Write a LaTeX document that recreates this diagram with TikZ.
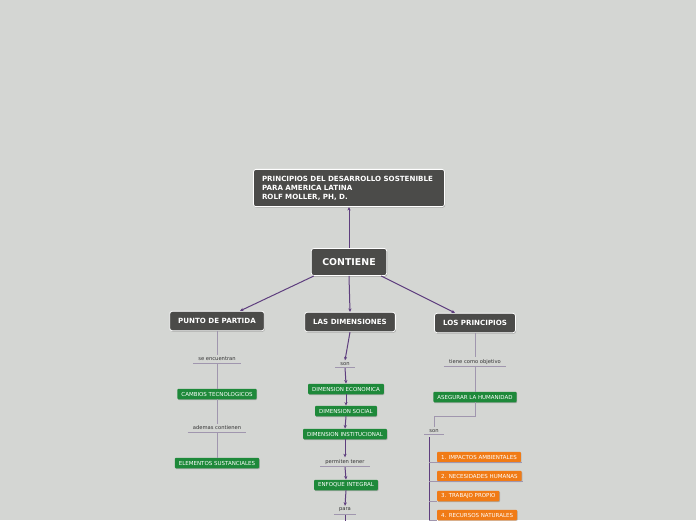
\documentclass[tikz,border=0pt]{standalone}
\usepackage{fontspec}
\setmainfont{DejaVu Sans}
\usetikzlibrary{arrows.meta,shadows}
% colours of the map
\definecolor{mapBg}{RGB}{212,214,211}
\definecolor{mapDark}{RGB}{75,75,73}
\definecolor{mapGreen}{RGB}{30,137,58}
\definecolor{mapOrange}{RGB}{240,123,22}
\definecolor{mapPurple}{RGB}{94,62,126}
\definecolor{mapGrey}{RGB}{160,150,174}
\begin{document}
\begin{tikzpicture}[x=1pt, y=-1pt,
  darkbox/.style={draw=white, line width=0.8pt, fill=mapDark, rounded corners=2.5pt,
    text=white, font=\bfseries\fontsize{7.1}{9}\selectfont, inner xsep=8.5pt, inner ysep=7pt,
    drop shadow={shadow xshift=0.6pt, shadow yshift=-1pt, fill=black, opacity=0.25}},
  greenbox/.style={fill=mapGreen, rounded corners=1pt, text=white,
    font=\fontsize{5.5}{6}\selectfont, inner xsep=4pt, inner ysep=0pt,
    minimum height=10.5pt,
    drop shadow={shadow xshift=0.6pt, shadow yshift=-0.8pt, fill=black, opacity=0.2}},
  orangebox/.style={greenbox, fill=mapOrange, anchor=west},
  linklbl/.style={font=\fontsize{5.2}{6}\selectfont, text=black!80, inner xsep=5pt,
    inner ysep=2pt},
  uline/.style={draw=mapGrey, line width=0.8pt},
  pline/.style={draw=mapPurple, line width=1pt},
  parrow/.style={pline, -{Stealth[length=3.5pt, width=3.2pt]}},
  gline/.style={draw=mapGrey, line width=0.9pt}]
% canvas
\fill[mapBg] (0,0) rectangle (696,520);
\useasboundingbox (0,0) rectangle (696,520);
% main topic and centre
\node[darkbox, text width=174pt, align=left, inner ysep=6.5pt] (title) at (349,188)
  {PRINCIPIOS DEL DESARROLLO SOSTENIBLE\\PARA AMERICA LATINA\\ROLF MOLLER, PH, D.};
\node[darkbox, font=\bfseries\fontsize{9.4}{10}\selectfont, inner xsep=11pt, inner ysep=10pt] (contiene) at (349,262) {CONTIENE};
% the three branches
\node[darkbox] (punto) at (217,321) {PUNTO DE PARTIDA};
\node[darkbox] (dimen) at (350,322) {LAS DIMENSIONES};
\node[darkbox] (princ) at (475,323) {LOS PRINCIPIOS};
\draw[parrow] (contiene.north) -- (title.south);
\draw[parrow] ([xshift=3pt]contiene.south west) -- ([xshift=23pt]punto.north);
\draw[parrow] (contiene.south) -- (dimen.north);
\draw[parrow] ([xshift=-6pt]contiene.south east) -- ([xshift=-20pt]princ.north);
% left branch
\node[linklbl] (encuentran) at (217,359) {se encuentran};
\node[greenbox] (cambios) at (217,394) {CAMBIOS TECNOLOGICOS};
\node[linklbl] (ademas) at (217,428) {ademas contienen};
\node[greenbox] (elementos) at (217,463) {ELEMENTOS SUSTANCIALES};
\draw[gline] (punto.south) -- (encuentran.north);
\draw[gline] (encuentran.south) -- (cambios.north);
\draw[gline] (cambios.south) -- (ademas.north);
\draw[gline] (ademas.south) -- (elementos.north);
% middle branch
\node[linklbl] (son) at (345,364) {son};
\node[greenbox] (economica) at (346,389) {DIMENSION ECONOMICA};
\node[greenbox] (social) at (346,411) {DIMENSION SOCIAL};
\node[greenbox] (institucional) at (345,434) {DIMENSION INSTITUCIONAL};
\node[linklbl] (permiten) at (345,462) {permiten tener};
\node[greenbox] (enfoque) at (346,485) {ENFOQUE INTEGRAL};
\node[linklbl] (para) at (345,510) {para};
\coordinate (mfree) at (345,530);
\draw[parrow] (dimen.south) -- (son.north);
\draw[parrow] (son.south) -- (economica.north);
\draw[parrow] (economica.south) -- (social.north);
\draw[parrow] (social.south) -- (institucional.north);
\draw[parrow] (institucional.south) -- (permiten.north);
\draw[parrow] (permiten.south) -- (enfoque.north);
\draw[parrow] (enfoque.south) -- (para.north);
\draw[pline] (para.south) -- (mfree);
% right branch
\node[linklbl] (objetivo) at (475,362) {tiene como objetivo};
\node[greenbox] (asegurar) at (475,397) {ASEGURAR LA HUMANIDAD};
\node[linklbl] (sonb) at (434,431) {son};
\node[orangebox] (impactos) at (437,457) {1. IMPACTOS AMBIENTALES};
\node[orangebox] (necesidades) at (437,476) {2. NECESIDADES HUMANAS};
\node[orangebox] (trabajo) at (437,496) {3. TRABAJO PROPIO};
\node[orangebox] (recursos) at (437,515) {4. RECURSOS NATURALES};
\coordinate (trunk) at (429,437);
\coordinate (rfree) at (429,530);
\draw[gline] (princ.south) -- (objetivo.north);
\draw[gline] (objetivo.south) -- (asegurar.north);
\draw[gline] (asegurar.south) |- (434,416) -- (sonb.north);
\draw[pline] (trunk) -- (rfree);
\foreach \leaf in {impactos,necesidades,trabajo,recursos}
  \draw[gline] (trunk |- \leaf.south west) -- (\leaf.south west);
\draw[gline] (impactos.south west) -- ([xshift=1pt]impactos.south east);
\draw[gline] (necesidades.south west) -- ([xshift=1pt]necesidades.south east);
% underlines of the link texts
\foreach \lbl in {encuentran,ademas,son,permiten,para,objetivo,sonb}
  \draw[uline] (\lbl.south west) -- (\lbl.south east);
\end{tikzpicture}
\end{document}
